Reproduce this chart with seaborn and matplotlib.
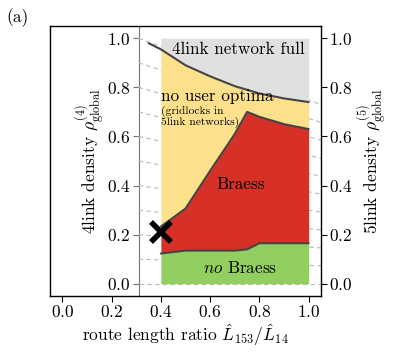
import numpy as np
import matplotlib
matplotlib.use("Agg")
import matplotlib.pyplot as plt
import seaborn as sns

# ============================================
# DATA
# ============================================

ratio = [0.4, 0.5, 0.6, 0.7, 0.75, 0.8, 0.9, 1.0]
no_braess_top = [0.123, 0.135, 0.135, 0.135, 0.14, 0.165, 0.165, 0.165]
braess_top = [0.233, 0.306, 0.46, 0.61, 0.70, 0.68, 0.65, 0.63]

full_ratio = [0.35, 0.4, 0.5, 0.6, 0.7, 0.8, 0.9, 1.0]
full_boundary = [0.98, 0.955, 0.89, 0.845, 0.805, 0.775, 0.755, 0.74]

density_ticks = [0.0, 0.2, 0.4, 0.6, 0.8, 1.0]
mapping_levels = [0.0, 0.1, 0.2, 0.3, 0.4, 0.5, 0.6, 0.7, 0.8, 0.9, 1.0]
rho5_per_rho4 = 0.73

marker_point = (0.4, 0.21)

# ============================================
# STYLE
# ============================================

sns.set_style("ticks")
plt.rcParams["font.family"] = "serif"
plt.rcParams["font.serif"] = ["cmr10", "DejaVu Serif"]
plt.rcParams["mathtext.fontset"] = "cm"
plt.rcParams["axes.formatter.use_mathtext"] = True
plt.rcParams["font.size"] = 12.5
plt.rcParams["text.color"] = "black"
plt.rcParams["axes.labelcolor"] = "black"
plt.rcParams["xtick.color"] = "black"
plt.rcParams["ytick.color"] = "black"

c_full = "#e0e0e0"
c_noopt = "#fde08b"
c_braess = "#d73027"
c_nobraess = "#91cf60"
c_edge = "#444444"

# ============================================
# FIGURE
# ============================================

fig = plt.figure(figsize=(4.07, 3.52), dpi=100)
ax = fig.add_axes([50 / 407, 56 / 352, 271 / 407, 270 / 352])
ax.set_xlim(-0.05, 1.05)
ax.set_ylim(-0.05, 1.05)

inner_x = 0.31

# dashed lines mapping rho4 (left) to rho5 (right)
for v in mapping_levels:
    ax.plot([inner_x, 1.05], [v, rho5_per_rho4 * v], ls=(0, (4, 3)),
            color="0.72", lw=0.8, zorder=0.5)

# regions
full_top = np.interp(ratio, full_ratio, full_boundary)
ax.fill_between(ratio, full_top, 1.0, color=c_full, lw=0, zorder=1)
ax.fill_between(ratio, braess_top, full_top, color=c_noopt, lw=0, zorder=1)
ax.fill_between(ratio, no_braess_top, braess_top, color=c_braess, lw=0, zorder=1)
ax.fill_between(ratio, 0.0, no_braess_top, color=c_nobraess, lw=0, zorder=1)

# boundary lines
sns.lineplot(x=full_ratio, y=full_boundary, color=c_edge, lw=1.5, ax=ax, zorder=2)
sns.lineplot(x=ratio, y=braess_top, color=c_edge, lw=1.5, ax=ax, zorder=2)
sns.lineplot(x=ratio, y=no_braess_top, color=c_edge, lw=1.5, ax=ax, zorder=2)

ax.plot(*marker_point, marker="x", color="black", ms=14, mew=4, zorder=3)

# labels inside regions
ax.text(0.985, 0.955, "4link network full", ha="right", va="center", fontsize=12.3)
ax.text(0.402, 0.765, "no user optima", ha="left", va="center", fontsize=12.3)
ax.text(0.402, 0.725, "(gridlocks in\n5link networks)", ha="left", va="top",
        fontsize=8.3, linespacing=1.0)
ax.text(0.725, 0.404, "Braess", ha="center", va="center", fontsize=12.3)
ax.text(0.72, 0.065, r"$\it{no}$ Braess", ha="center", va="center", fontsize=12.3)

# axes: x on bottom, rho5 on the right spine
ax.set_xticks([0.0, 0.2, 0.4, 0.6, 0.8, 1.0])
ax.yaxis.tick_right()
ax.yaxis.set_label_position("right")
ax.set_yticks(density_ticks)
ax.set_ylabel(r"5link density $\rho^{(5)}_{\rm global}$", labelpad=2)
ax.set_xlabel(r"route length ratio $\hat{L}_{153}/\hat{L}_{14}$", labelpad=1)
ax.tick_params(direction="out", length=4, width=0.8, pad=2)
for s in ax.spines.values():
    s.set_linewidth(1.0)
    s.set_color("black")

# rho4 axis sitting inside the frame
sec = ax.secondary_yaxis((inner_x + 0.05) / 1.1)
sec.set_yticks(density_ticks)
sec.set_ylabel(r"4link density $\rho^{(4)}_{\rm global}$", labelpad=0)
sec.spines["left"].set_color("0.45")
sec.tick_params(direction="out", length=4, width=0.8, color="0.45", pad=2)

fig.text(18 / 407, 1 - 18 / 352, "(a)", ha="center", va="center", fontsize=12.5)

plt.savefig("out.png", dpi=100)
